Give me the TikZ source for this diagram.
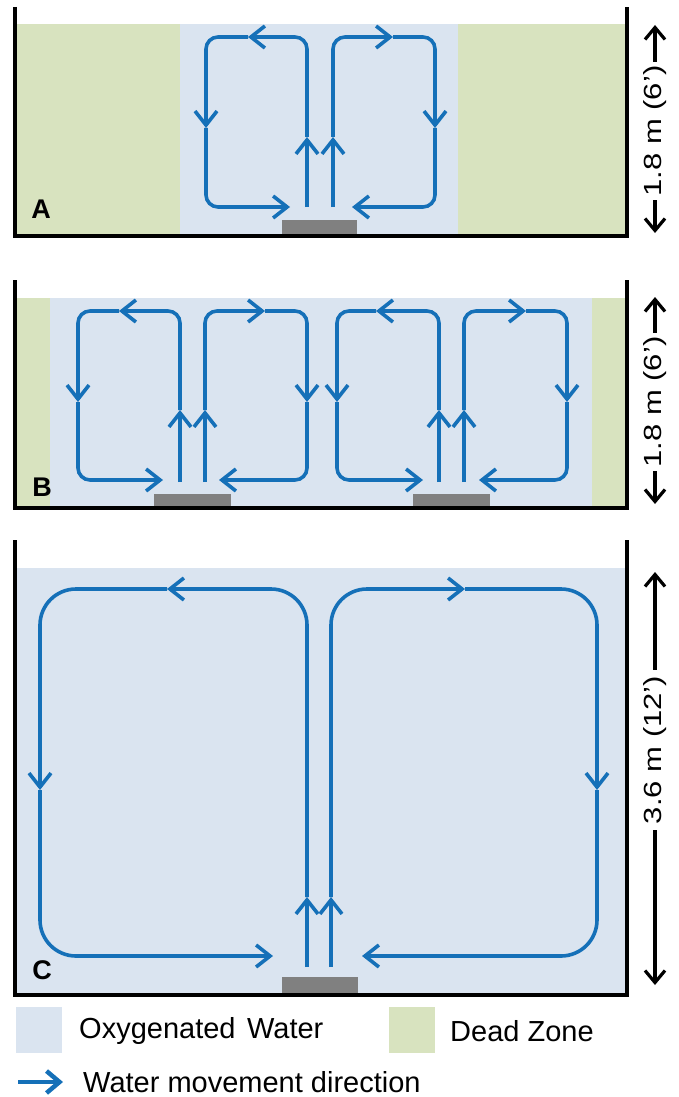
\documentclass[tikz,border=0pt]{standalone}
\usepackage{fontspec}
\setmainfont{Liberation Sans}
\usetikzlibrary{arrows.meta}

\definecolor{oxywater}{HTML}{DAE4F0}
\definecolor{deadzone}{HTML}{D8E3BF}
\definecolor{flowblue}{HTML}{1570B8}
\definecolor{diffuser}{HTML}{808080}

\tikzset{
  wall/.style={draw=black, line width=3.8pt},
  flow/.style={draw=flowblue, line width=3.6pt, -{Straight Barb[length=14pt,width=22pt]}},
  dimline/.style={draw=black, line width=3.2pt,
    {Straight Barb[length=12pt,width=20pt]}-{Straight Barb[length=12pt,width=20pt]}},
  dimlabel/.style={fill=white, inner sep=4pt, rotate=90,
    font=\fontsize{31}{34}\selectfont},
  panelletter/.style={font=\fontsize{27}{30}\selectfont\bfseries},
  legendtext/.style={anchor=west, inner sep=0pt, font=\fontsize{29}{33}\selectfont},
}

% one circulation cell: rising line x, outer line x, top y, bottom y,
% start of rising line, up-tip y, top-tip x, down-tip y, bottom-tip x
\newcommand\flowloop[9]{%
  \draw[flow] (#1,#5) -- (#1,#6);
  \draw[flow] (#1,#6) -- (#1,#3) -- (#7,#3);
  \draw[flow] (#7,#3) -- (#2,#3) -- (#2,#8);
  \draw[flow] (#2,#8) -- (#2,#4) -- (#9,#4);
}

\begin{document}
\begin{tikzpicture}[x=1pt, y=-1pt]
\useasboundingbox (0,0) rectangle (679,1097);

% ---------- Tank A: one diffuser ----------
\fill[deadzone] (17,24) rectangle (180,234);
\fill[oxywater] (180,24) rectangle (458,234);
\fill[deadzone] (458,24) rectangle (625,234);
\fill[diffuser] (282,220) rectangle (357,234);
\begin{scope}[rounded corners=12pt]
  \flowloop{307}{206}{37}{207}{207}{137}{248}{128}{290}
  \flowloop{333}{435}{37}{207}{207}{137}{393}{128}{352}
\end{scope}
\draw[wall] (15,7) -- (15,236) -- (627,236) -- (627,7);
\node[panelletter] (lblA) at (41,209) {A};
\draw[dimline] (655,25) -- (655,233);
\node[dimlabel] (dimA) at (655,131) {\scalebox{1}[0.8]{1.8 m (6')}};

% ---------- Tank B: two diffusers ----------
\fill[deadzone] (17,298) rectangle (50,506);
\fill[oxywater] (50,298) rectangle (592,506);
\fill[deadzone] (592,298) rectangle (625,506);
\fill[diffuser] (154,494) rectangle (231,506);
\fill[diffuser] (413,494) rectangle (490,506);
\begin{scope}[rounded corners=12pt]
  \flowloop{180}{78}{311}{480}{482}{410}{119}{402}{163}
  \flowloop{205}{307}{311}{480}{482}{410}{265}{402}{219}
  \flowloop{439}{337}{311}{480}{482}{410}{376}{402}{423}
  \flowloop{464}{567}{311}{480}{482}{410}{526}{402}{479}
\end{scope}
\draw[wall] (15,280) -- (15,508) -- (627,508) -- (627,280);
\node[panelletter] (lblB) at (42,487) {B};
\draw[dimline] (655,297) -- (655,504);
\node[dimlabel] (dimB) at (655,402) {\scalebox{1}[0.8]{1.8 m (6')}};

% ---------- Tank C: deep tank ----------
\fill[oxywater] (17,568) rectangle (625,993);
\fill[diffuser] (282,977) rectangle (358,993);
\begin{scope}[rounded corners=36pt]
  \flowloop{307}{40}{589}{956}{967}{897}{167}{790}{273}
  \flowloop{331}{597}{589}{956}{967}{897}{465}{790}{362}
\end{scope}
\draw[wall] (15,540) -- (15,995) -- (627,995) -- (627,540);
\node[panelletter] (lblC) at (42,970) {C};
\draw[dimline] (655,572) -- (655,985);
\node[dimlabel, inner sep=6pt] (dimC) at (655,750) {\scalebox{1}[0.8]{3.6 m (12')}};

% ---------- Legend ----------
\fill[oxywater] (16,1007) rectangle (62,1053);
\node[legendtext] (legOxy) at (79,1031) {Oxygenated\hspace{0.12em} Water};
\fill[deadzone] (389,1007) rectangle (435,1053);
\node[legendtext] (legDead) at (450,1031) {Dead Zone};
\coordinate (arrS) at (18,1082);
\coordinate (arrE) at (63,1082);
\draw[draw=flowblue, line width=4.5pt, -{Straight Barb[length=13pt,width=22pt]}] (arrS) -- (arrE);
\node[legendtext] (legFlow) at (83,1082) {Water movement direction};
\end{tikzpicture}
\end{document}
